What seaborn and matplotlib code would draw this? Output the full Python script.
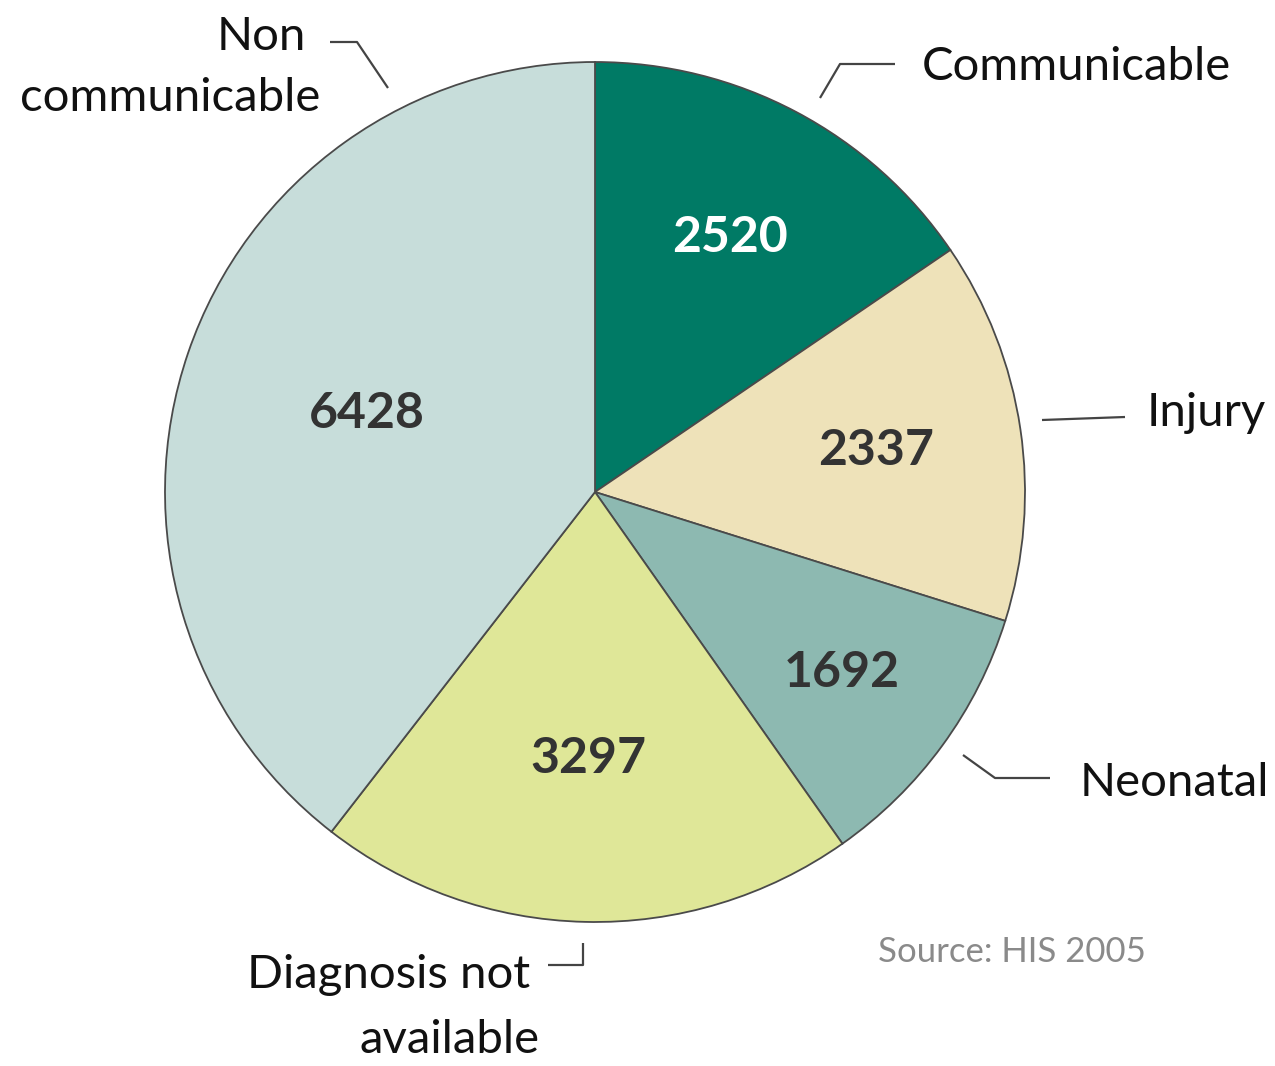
import numpy as np
import matplotlib
matplotlib.use("Agg")
import matplotlib.pyplot as plt
import seaborn as sns

# data (clockwise from 12 o'clock)
categories = ["Communicable", "Injury", "Neonatal", "Diagnosis not available", "Non communicable"]
deaths = [2520, 2337, 1692, 3297, 6428]
colors = ["#007A65", "#EEE2B9", "#8DB9B1", "#DFE798", "#C7DDDA"]
value_colors = ["white", "#333333", "#333333", "#333333", "#333333"]
value_radius = [0.67, 0.66, 0.71, 0.62, 0.56]

sns.set_theme(style="white")
plt.rcParams["font.family"] = ["Lato", "DejaVu Sans"]

W, H = 1275, 1066
fig = plt.figure(figsize=(W / 100, H / 100), dpi=100)
ax = fig.add_axes([0, 0, 1, 1])

cx, cy, R = 595, H - 492, 430
wedges, _ = ax.pie(deaths, colors=sns.color_palette(colors), startangle=90, counterclock=False,
                   center=(cx, cy), radius=R, frame=True,
                   wedgeprops=dict(edgecolor="#4a4a4a", linewidth=1.3))
ax.set_xlim(0, W)
ax.set_ylim(0, H)
ax.set_aspect("equal")
ax.axis("off")

# values inside wedges
for w, v, c, r in zip(wedges, deaths, value_colors, value_radius):
    ang = np.deg2rad((w.theta1 + w.theta2) / 2)
    ax.text(cx + r * R * np.cos(ang), cy + r * R * np.sin(ang), str(v),
            ha="center", va="center", fontsize=36, fontweight="bold", color=c)


def P(x, y):
    # pixel position (top-left origin) -> data
    return x, H - y


lc = "#444444"
lw = 1.6
fs = 34

# leader lines
for pts in [
    [(330, 42), (357, 42), (388, 88)],
    [(820, 98), (840, 64), (895, 64)],
    [(1042, 420), (1125, 417)],
    [(963, 755), (995, 778), (1050, 778)],
    [(548, 965), (583, 965), (583, 943)],
]:
    xs, ys = zip(*[P(*p) for p in pts])
    ax.plot(xs, ys, color=lc, lw=lw, solid_capstyle="butt")

# category labels
ax.text(*P(306, 37), "Non", ha="right", va="center", fontsize=fs, color="#111111")
ax.text(*P(320, 98), "communicable", ha="right", va="center", fontsize=fs, color="#111111")
ax.text(*P(922, 67), categories[0], ha="left", va="center", fontsize=fs, color="#111111")
ax.text(*P(1147, 413), categories[1], ha="left", va="center", fontsize=fs, color="#111111")
ax.text(*P(1080, 783), categories[2], ha="left", va="center", fontsize=fs, color="#111111")
ax.text(*P(530, 975), "Diagnosis not", ha="right", va="center", fontsize=fs, color="#111111")
ax.text(*P(450, 1040), "available", ha="center", va="center", fontsize=fs, color="#111111")

ax.text(*P(878, 952), "Source: HIS 2005", ha="left", va="center", fontsize=25, color="#8a8a8a")

fig.savefig("out.png", dpi=100)
